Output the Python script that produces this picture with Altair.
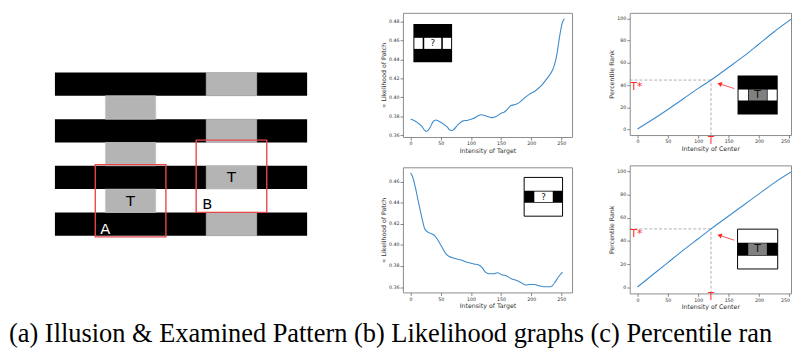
import altair as alt
import pandas as pd

# ---------------- data ----------------
# (a) illusion: 5 columns x 7 rows grid
grid_cols = 5
black_rows = [0, 2, 4, 6]
gray_cols = [3, 1, 3, 1, 3, 1, 3]
gray_rows = [0, 1, 2, 3, 4, 5, 6]
target_cols = [3, 1]
target_rows = [4, 5]
box_names = ["A", "B"]
box_x0 = [0.8, 2.8]
box_x1 = [2.2, 4.2]
box_y0 = [3.95, 2.9]
box_y1 = [7.05, 6.0]
box_label_x = [1.0, 3.02]
box_label_y = [6.7, 5.63]
box_label_color = ["white", "black"]

# (b) likelihood graphs
b1_x = [0, 5, 13, 19, 23, 26, 29, 33, 37, 42, 46, 55, 61, 65, 69, 72, 79, 87, 95, 104,
        112, 117, 125, 136, 142, 150, 155, 161, 166, 175, 180, 188, 196, 207, 218, 226,
        235, 239, 243, 247, 251, 255]
b1_y = [0.3769, 0.3759, 0.3725, 0.3691, 0.3654, 0.3641, 0.3651, 0.3691, 0.3742, 0.3762,
        0.3752, 0.3718, 0.3685, 0.3657, 0.3651, 0.3664, 0.3715, 0.3752, 0.3759, 0.3776,
        0.3806, 0.3816, 0.3803, 0.3786, 0.3799, 0.3833, 0.3843, 0.3877, 0.3911, 0.3928,
        0.3945, 0.3989, 0.4029, 0.4070, 0.4131, 0.4198, 0.4283, 0.4350, 0.4469, 0.4638,
        0.4773, 0.4831]
b2_x = [0, 3, 8, 13, 19, 23, 27, 32, 38, 43, 51, 59, 65, 73, 84, 94, 105, 113, 119, 124,
        130, 138, 144, 151, 159, 167, 175, 184, 191, 197, 205, 213, 221, 232, 240, 245, 252]
b2_y = [0.4683, 0.4652, 0.4544, 0.4406, 0.4251, 0.4159, 0.4128, 0.4112, 0.4097, 0.4066,
        0.3989, 0.3912, 0.3887, 0.3872, 0.3856, 0.3835, 0.3819, 0.3810, 0.3782, 0.3742,
        0.3727, 0.3727, 0.3736, 0.3717, 0.3705, 0.3680, 0.3665, 0.3640, 0.3619, 0.3625,
        0.3625, 0.3612, 0.3603, 0.3603, 0.3649, 0.3696, 0.3742]

# (c) percentile rank graphs
c_x = [0, 25, 50, 75, 100, 121, 150, 175, 200, 225, 255]
c1_y = [0.5, 9, 18, 27.5, 37, 44.5, 56, 66, 77, 88, 100]
c2_y = [0.5, 11, 21.5, 32, 42, 50.4, 61.5, 71, 80.5, 90, 100]
t_value = 121
tstar_values = [44.5, 50.4]

x_ticks = [0, 50, 100, 150, 200, 250]
b1_ticks = [0.36, 0.38, 0.40, 0.42, 0.44, 0.46, 0.48]
b2_ticks = [0.36, 0.38, 0.40, 0.42, 0.44, 0.46]
c_ticks = [0, 20, 40, 60, 80, 100]
caption = "(a) Illusion & Examined Pattern (b) Likelihood graphs (c) Percentile rank"

# ---------------- styles ----------------
BLUE = "#3d8bcd"
RED = "#ff2b2b"
ARROW = "#f25454"
GRAY_A = "#b4b4b4"
GRAY_C = "#808080"
FONT = "DejaVu Sans"
TXT = "#333333"
NOSTROKE = alt.ViewBackground(stroke="transparent")

# ---------------- panel (a) ----------------
asx = alt.Scale(domain=[-0.911, 6.066], nice=False, zero=False)
asy = alt.Scale(domain=[-2.56, 9.60], nice=False, zero=False, reverse=True)


def AX(f):
    return alt.X(f"{f}:Q", scale=asx, axis=None)


def AY(f):
    return alt.Y(f"{f}:Q", scale=asy, axis=None)


bars = pd.DataFrame({"x": [0] * len(black_rows), "x2": [grid_cols] * len(black_rows),
                     "y": black_rows, "y2": [r + 1 for r in black_rows]})
grays = pd.DataFrame({"x": gray_cols, "x2": [c + 1 for c in gray_cols],
                      "y": gray_rows, "y2": [r + 1 for r in gray_rows]})
targets = pd.DataFrame({"x": [c + 0.5 for c in target_cols],
                        "y": [r + 0.5 for r in target_rows], "t": ["T", "T"]})
boxes = pd.DataFrame({"x": box_x0, "x2": box_x1, "y": box_y0, "y2": box_y1})
blabels = pd.DataFrame({"x": box_label_x, "y": box_label_y, "t": box_names,
                        "c": box_label_color})

panel_a = alt.layer(
    alt.Chart(bars).mark_rect(color="black").encode(x=AX("x"), x2="x2", y=AY("y"), y2="y2"),
    alt.Chart(grays).mark_rect(color=GRAY_A, stroke="#c8c8c8", strokeWidth=0.6).encode(
        x=AX("x"), x2="x2", y=AY("y"), y2="y2"),
    alt.Chart(boxes).mark_rect(fillOpacity=0, stroke="#e8474a", strokeWidth=1.4).encode(
        x=AX("x"), x2="x2", y=AY("y"), y2="y2"),
    alt.Chart(targets).mark_text(fontSize=15, font=FONT, color="black").encode(
        x=AX("x"), y=AY("y"), text="t:N"),
    alt.Chart(blabels).mark_text(fontSize=15, font=FONT).encode(
        x=AX("x"), y=AY("y"), text="t:N", color=alt.Color("c:N", scale=None)),
).properties(width=360, height=290, view=NOSTROKE)


# ---------------- helpers for plots ----------------
def inset_df(box, cells):
    x0, x1, y0, y1 = box
    rows = []
    for fx0, fx1, fy0, fy1, fill, stroke in cells:
        rows.append({"x": x0 + fx0 * (x1 - x0), "x2": x0 + fx1 * (x1 - x0),
                     "y": y1 - fy0 * (y1 - y0), "y2": y1 - fy1 * (y1 - y0),
                     "fill": fill, "stroke": stroke})
    return pd.DataFrame(rows)


def make_plot(xs, ys, xdom, ydom, yticks, yfmt, xtitle, ytitle, width, height,
              inset, inset_text, inset_text_size, extras=None):
    sx = alt.Scale(domain=xdom, nice=False, zero=False)
    sy = alt.Scale(domain=ydom, nice=False, zero=False)
    xax = alt.Axis(values=x_ticks, title=xtitle, format="d", labelFlush=4,
                   titleColor=TXT, labelColor=TXT)
    yax = alt.Axis(values=yticks, title=ytitle, format=yfmt, titleColor=TXT, labelColor=TXT)

    def X(f="x"):
        return alt.X(f"{f}:Q", scale=sx, axis=xax)

    def Y(f="y"):
        return alt.Y(f"{f}:Q", scale=sy, axis=yax)

    line = alt.Chart(pd.DataFrame({"x": xs, "y": ys})).mark_line(
        color=BLUE, strokeWidth=1.1, interpolate="monotone", clip=True).encode(x=X(), y=Y())
    layers = []
    if extras:
        layers += extras(X, Y)
    layers.append(line)
    ins = alt.Chart(inset).mark_rect(strokeWidth=1).encode(
        x=X(), x2="x2", y=Y(), y2="y2",
        fill=alt.Fill("fill:N", scale=None), stroke=alt.Stroke("stroke:N", scale=None))
    layers.append(ins)
    layers.append(alt.Chart(inset_text).mark_text(
        fontSize=inset_text_size, font=FONT, color="#111").encode(x=X(), y=Y(), text="t:N"))
    return alt.layer(*layers).properties(width=width, height=height)


def percentile_extras(tstar, arrow, t_below, tstar_y):
    def f(X, Y):
        dash = pd.DataFrame({"x": [-12.75, t_value], "x2": [t_value, t_value],
                             "y": [tstar, -5], "y2": [tstar, tstar]})
        rule = alt.Chart(dash).mark_rule(color="#9a9a9a", strokeDash=[3, 2],
                                         strokeWidth=0.8).encode(
            x=X(), x2="x2", y=Y(), y2="y2")
        shaft = alt.Chart(pd.DataFrame({"x": [arrow[0]], "x2": [arrow[2]],
                                        "y": [arrow[1]], "y2": [arrow[3]]})).mark_rule(
            color=ARROW, strokeWidth=1).encode(x=X(), x2="x2", y=Y(), y2="y2")
        head = alt.Chart(pd.DataFrame({"x": [arrow[2]], "y": [arrow[3]]})).mark_point(
            shape="triangle-up", filled=True, color=RED, opacity=1, size=28,
            angle=288).encode(x=X(), y=Y())
        labels = alt.Chart(pd.DataFrame({"x": [-11.5], "y": [tstar_y], "t": ["T*"]})).mark_text(
            align="left", baseline="middle", fontSize=11, font=FONT, color=RED).encode(
            x=X(), y=Y(), text="t:N")
        tl = alt.Chart(pd.DataFrame({"x": [t_value], "y": [t_below], "t": ["T"]})).mark_text(
            baseline="middle", fontSize=10, font=FONT, color=RED).encode(
            x=X(), y=Y(), text="t:N")
        return [rule, shaft, head, labels, tl]
    return f


XDOM_B = [-12.75, 267.75]
XDOM_C = [-12.75, 252.7]

# b1 inset: black square, white row with "?"
b1_inset = inset_df([4.6, 68.8, 0.437, 0.4773], [
    (0, 1, 0, 1, "black", "transparent"),
    (0.025, 0.24, 0.36, 0.65, "white", "transparent"),
    (0.28, 0.72, 0.36, 0.65, "white", "transparent"),
    (0.76, 0.975, 0.36, 0.65, "white", "transparent"),
])
b1_text = pd.DataFrame({"x": [36.7], "y": [0.4568], "t": ["?"]})

b2_inset = inset_df([188.3, 252.0, 0.4273, 0.4641], [
    (0, 1, 0, 1, "white", "black"),
    (0, 1, 0.345, 0.655, "black", "transparent"),
    (0.265, 0.745, 0.365, 0.635, "white", "transparent"),
])
b2_text = pd.DataFrame({"x": [220.5], "y": [0.4455], "t": ["?"]})

c1_inset = inset_df([164.7, 230.8, 13.4, 48.7], [
    (0, 1, 0, 1, "black", "transparent"),
    (0.024, 0.26, 0.36, 0.64, "white", "transparent"),
    (0.276, 0.73, 0.36, 0.64, GRAY_C, "transparent"),
    (0.748, 0.976, 0.36, 0.64, "white", "transparent"),
])
c1_text = pd.DataFrame({"x": [197.5], "y": [31.0], "t": ["T"]})

c2_inset = inset_df([164.7, 230.8, 16.0, 50.2], [
    (0, 1, 0, 1, "white", "black"),
    (0, 1, 0.34, 0.67, "black", "transparent"),
    (0.265, 0.73, 0.355, 0.655, GRAY_C, "transparent"),
])
c2_text = pd.DataFrame({"x": [197.5], "y": [33.0], "t": ["T"]})

b1 = make_plot(b1_x, b1_y, XDOM_B, [0.3582, 0.4891], b1_ticks, ".2f",
               "Intensity of Target", "\u221d Likelihood of Patch", 173, 127,
               b1_inset, b1_text, 9)
b2 = make_plot(b2_x, b2_y, XDOM_B, [0.3549, 0.4737], b2_ticks, ".2f",
               "Intensity of Target", "\u221d Likelihood of Patch", 173, 128,
               b2_inset, b2_text, 9)
c1 = make_plot(c_x, c1_y, XDOM_C, [-5, 105], c_ticks, "d",
               "Intensity of Center", "Percentile Rank", 165, 125,
               c1_inset, c1_text, 11,
               percentile_extras(tstar_values[0], [159.3, 36.9, 135.1, 41.1], -10.7, 38.5))
c2 = make_plot(c_x, c2_y, XDOM_C, [-5, 105], c_ticks, "d",
               "Intensity of Center", "Percentile Rank", 165, 131,
               c2_inset, c2_text, 11,
               percentile_extras(tstar_values[1], [159.3, 40.7, 135.1, 44.9], -8.2, 46.0))

col_b = alt.vconcat(b1, b2, spacing=12)
col_c = alt.vconcat(c1, c2, spacing=12)
row = alt.hconcat(panel_a, alt.hconcat(col_b, col_c, spacing=36), spacing=18)

cap = alt.Chart(pd.DataFrame({"t": [caption]})).mark_text(
    align="left", baseline="alphabetic", font="Liberation Serif, serif", fontSize=27,
    limit=792, ellipsis="\u200b", color="black").encode(
    x=alt.value(0), y=alt.value(31), text="t:N").properties(
    width=792, height=38, view=NOSTROKE)

chart = alt.vconcat(row, cap, spacing=0).properties(
    padding={"left": 0, "top": 0, "right": 0, "bottom": 0}
).configure_view(stroke="#8a8a8a", strokeWidth=1).configure_axis(
    domain=False, grid=False, tickColor="#666", tickSize=3, tickWidth=0.8,
    labelFont=FONT, labelFontSize=4.8, labelColor=TXT, labelPadding=1,
    titleFont=FONT, titleFontSize=6.4, titleFontWeight="normal", titleColor=TXT,
    titlePadding=2)

chart.save("out.html", embed_options={"renderer": "svg", "actions": False})
